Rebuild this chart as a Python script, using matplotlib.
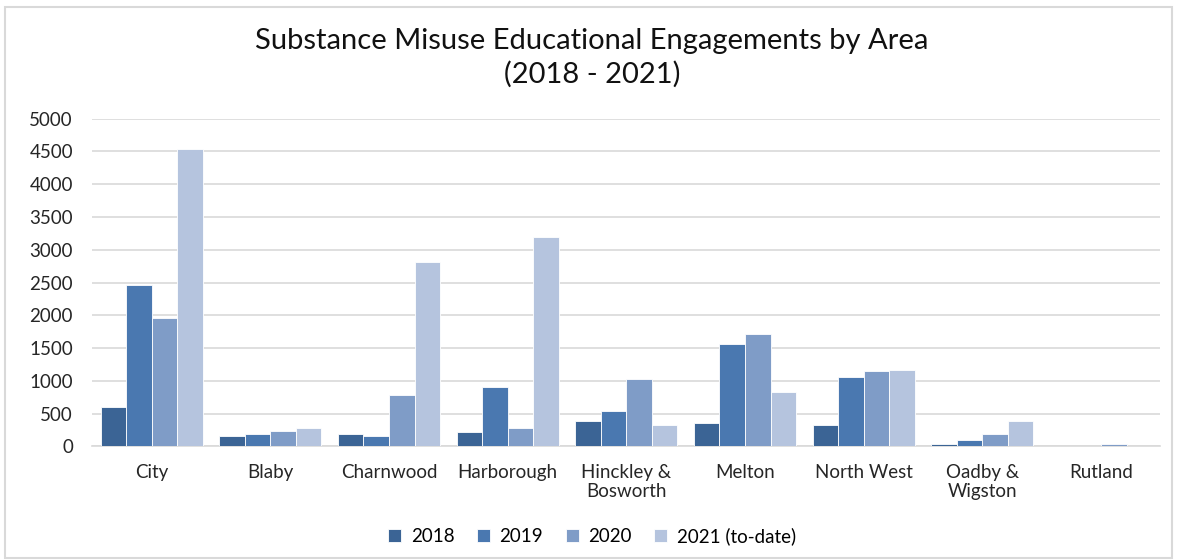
import numpy as np
import matplotlib
matplotlib.use("Agg")
import matplotlib.pyplot as plt
from matplotlib.patches import Rectangle

plt.rcParams['font.family'] = ['Lato', 'DejaVu Sans']

areas = ["City", "Blaby", "Charnwood", "Harborough", "Hinckley &\nBosworth",
         "Melton", "North West", "Oadby &\nWigston", "Rutland"]
years = ["2018", "2019", "2020", "2021 (to-date)"]
v2018 = [600, 150, 195, 226, 380, 360, 330, 32, 0]
v2019 = [2465, 195, 155, 898, 535, 1565, 1060, 97, 0]
v2020 = [1955, 240, 780, 282, 1025, 1720, 1150, 183, 35]
v2021 = [4540, 272, 2810, 3190, 330, 835, 1165, 392, 0]
colors = ["#3B6495", "#4A78B0", "#7F9CC7", "#B5C4DE"]

fig = plt.figure(figsize=(11.84, 5.6), dpi=100)
fig.patches.append(Rectangle((0.004, 0.004), 0.986, 0.984, transform=fig.transFigure,
                             fill=False, edgecolor="#D9D9D9", lw=1.5))
ax = fig.add_axes([0.078, 0.203, 0.902, 0.585])

x = np.arange(len(areas))
w = 0.215
for i, (vals, lab) in enumerate(zip([v2018, v2019, v2020, v2021], years)):
    ax.bar(x + (i - 1.5) * w, vals, w, color=colors[i], label=lab,
           edgecolor="white", linewidth=0.6, zorder=3)

ax.set_ylim(0, 5000)
ax.set_xlim(-0.5, len(areas) - 0.5)
ax.set_yticks(range(0, 5001, 500))
ax.yaxis.grid(True, color="#D9D9D9", lw=1.2, zorder=0)
ax.set_xticks(x)
ax.set_xticklabels(areas, fontsize=13.5, color="#262626", linespacing=1.1)
ax.tick_params(axis='y', labelsize=13.5, labelcolor="#262626", length=0, pad=14)
ax.tick_params(axis='x', length=0, pad=13)
for s in ["top", "right", "left"]:
    ax.spines[s].set_visible(False)
ax.spines["bottom"].set_color("#D9D9D9")
ax.spines["bottom"].set_linewidth(1.2)

fig.suptitle("Substance Misuse Educational Engagements by Area\n(2018 - 2021)",
             fontsize=21, y=0.95, color="#111111", linespacing=1.3)

fig.legend(loc="lower center", ncol=4, frameon=False, fontsize=13.5,
           bbox_to_anchor=(0.5, -0.003), handlelength=0.7, handleheight=0.7,
           columnspacing=1.2, handletextpad=0.5)

fig.savefig("out.png", dpi=100)
